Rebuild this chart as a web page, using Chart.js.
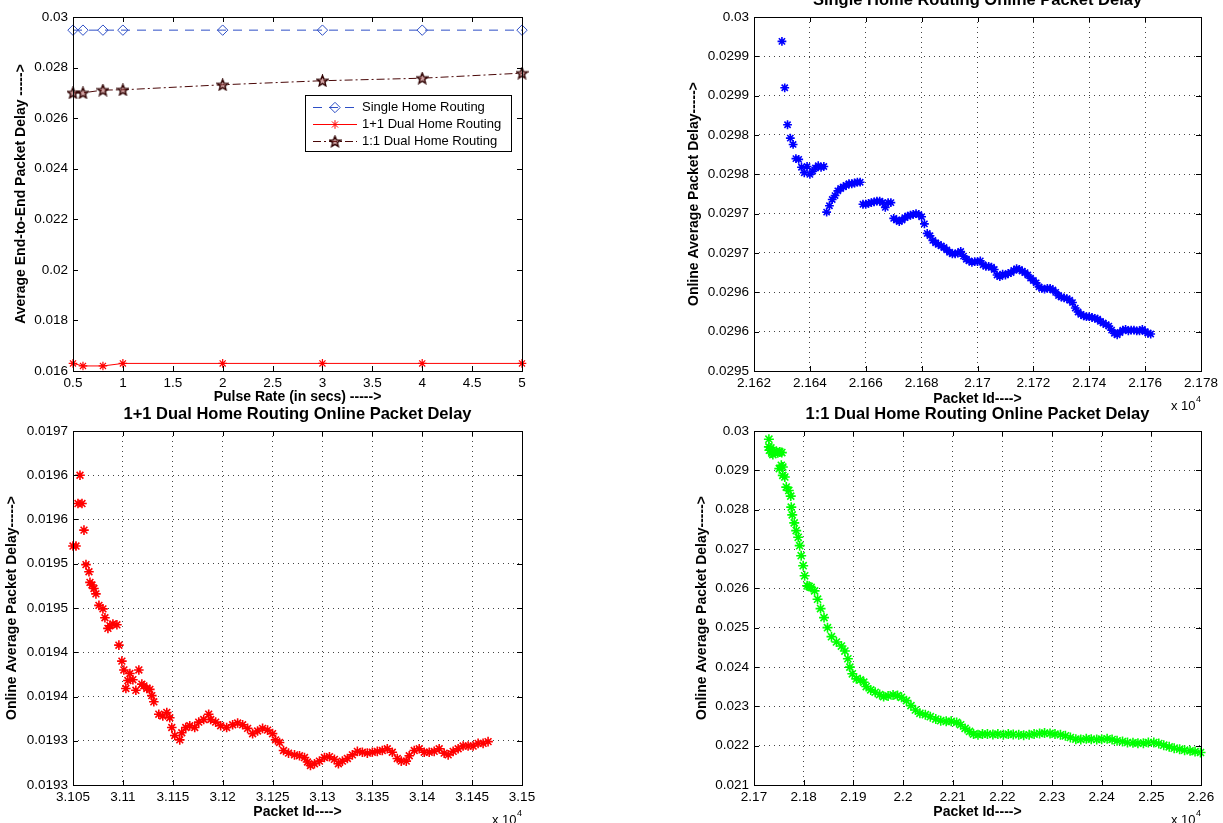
<!DOCTYPE html>
<html>
<head>
<meta charset="utf-8">
<script src="https://cdn.jsdelivr.net/npm/chart.js@4/dist/chart.umd.min.js"></script>
<style>
  html, body { margin: 0; padding: 0; background: #fff; }
  body { width: 1223px; height: 823px; position: relative; overflow: hidden; }
  canvas { position: absolute; }
</style>
</head>
<body>
<canvas id="avgChart"></canvas>
<canvas id="singleChart"></canvas>
<canvas id="plusChart"></canvas>
<canvas id="colonChart"></canvas>
<script>
const FONT = "'Liberation Sans', Arial, Helvetica, sans-serif";
const TICK_PX = 13.5, LABEL_PX = 14, TITLE_PX = 16.5;

// ---- top left: average end-to-end delay against pulse rate
const pulseRate = [0.5, 0.6, 0.8, 1, 2, 3, 4, 5];
const singleHomeAvg = [0.02948, 0.02948, 0.02948, 0.02948, 0.02948, 0.02948, 0.02948, 0.02948];
const dualPlusAvg = [0.0163, 0.0162, 0.0162, 0.0163, 0.0163, 0.0163, 0.0163, 0.0163];
const dualColonAvg = [0.02700, 0.02700, 0.02711, 0.02712, 0.02732, 0.02748, 0.02758, 0.02778];
const pulseTicks = [0.5, 1, 1.5, 2, 2.5, 3, 3.5, 4, 4.5, 5];
const pulseTickLabels = ['0.5', '1', '1.5', '2', '2.5', '3', '3.5', '4', '4.5', '5'];
const avgTicks = [0.016, 0.018, 0.020, 0.022, 0.024, 0.026, 0.028, 0.030];
const avgTickLabels = ['0.016', '0.018', '0.02', '0.022', '0.024', '0.026', '0.028', '0.03'];

// ---- top right: single home routing, [packet id, online average delay]
const singleOnline = [
  [21630, 0.029969], [21631, 0.029910], [21632, 0.029863], [21633, 0.029846], [21634, 0.029838],
  [21635, 0.029820], [21636, 0.029819], [21637, 0.029809], [21638, 0.029802], [21639, 0.029810],
  [21640, 0.029800], [21641, 0.029804], [21642, 0.029808], [21643, 0.029811], [21644, 0.029809],
  [21645, 0.029810],
  [21646, 0.029752], [21647, 0.029760], [21648, 0.029768], [21649, 0.029773], [21650, 0.029779],
  [21651, 0.029782], [21652, 0.029784], [21653, 0.029786], [21654, 0.029788], [21655, 0.029788],
  [21656, 0.029789], [21657, 0.029790], [21658, 0.029790],
  [21659, 0.029762], [21660, 0.029762], [21661, 0.029763], [21662, 0.029764], [21663, 0.029765],
  [21664, 0.029766], [21665, 0.029766], [21666, 0.029764], [21667, 0.029758], [21668, 0.029764],
  [21669, 0.029764],
  [21670, 0.029744], [21671, 0.029742], [21672, 0.029740], [21673, 0.029742], [21674, 0.029745],
  [21675, 0.029747], [21676, 0.029748], [21677, 0.029749], [21678, 0.029750], [21679, 0.029749],
  [21680, 0.029746], [21681, 0.029737],
  [21682, 0.029725], [21683, 0.029722], [21684, 0.029716], [21685, 0.029713], [21686, 0.029711],
  [21687, 0.029709], [21688, 0.029707], [21689, 0.029704], [21690, 0.029701], [21691, 0.029699],
  [21692, 0.029699], [21693, 0.029700], [21694, 0.029702], [21695, 0.029696], [21696, 0.029692],
  [21697, 0.029690], [21698, 0.029688], [21699, 0.029689], [21700, 0.029689], [21701, 0.029690],
  [21702, 0.029685], [21703, 0.029683], [21704, 0.029683], [21705, 0.029682], [21706, 0.029679],
  [21707, 0.029672], [21708, 0.029670], [21709, 0.029673], [21710, 0.029672], [21711, 0.029674],
  [21712, 0.029675], [21713, 0.029678], [21714, 0.029680], [21715, 0.029679], [21716, 0.029677],
  [21717, 0.029675], [21718, 0.029672], [21719, 0.029668], [21720, 0.029665], [21721, 0.029662],
  [21722, 0.029657], [21723, 0.029655], [21724, 0.029654], [21725, 0.029655], [21726, 0.029655],
  [21727, 0.029653], [21728, 0.029650], [21729, 0.029646], [21730, 0.029644], [21731, 0.029643],
  [21732, 0.029642], [21733, 0.029640], [21734, 0.029637], [21735, 0.029630], [21736, 0.029625],
  [21737, 0.029622], [21738, 0.029620], [21739, 0.029619], [21740, 0.029619], [21741, 0.029618],
  [21742, 0.029617], [21743, 0.029616], [21744, 0.029613], [21745, 0.029611], [21746, 0.029609],
  [21747, 0.029607], [21748, 0.029602], [21749, 0.029598], [21750, 0.029596], [21751, 0.029599],
  [21752, 0.029602], [21753, 0.029603], [21754, 0.029601], [21755, 0.029602], [21756, 0.029602],
  [21757, 0.029601], [21758, 0.029601], [21759, 0.029603], [21760, 0.029600], [21761, 0.029598],
  [21762, 0.029597]
];
const singleIdTicks = [21620, 21640, 21660, 21680, 21700, 21720, 21740, 21760, 21780];
const singleIdLabels = ['2.162', '2.164', '2.166', '2.168', '2.17', '2.172', '2.174', '2.176', '2.178'];
const singleDelayTicks = [0.02955, 0.0296, 0.02965, 0.0297, 0.02975, 0.0298, 0.02985, 0.0299, 0.02995, 0.03];
const singleDelayLabels = ['0.0295', '0.0296', '0.0296', '0.0297', '0.0297', '0.0298', '0.0298', '0.0299', '0.0299', '0.03'];

// ---- bottom left: 1+1 dual home routing
const plusOnline = [
  [31050, 0.019520], [31053, 0.019520], [31055, 0.019568], [31057, 0.019600], [31059, 0.019568],
  [31061, 0.019538], [31063, 0.019499], [31066, 0.019491], [31067, 0.019479], [31069, 0.019476],
  [31071, 0.019472], [31073, 0.019466], [31076, 0.019453], [31080, 0.019449], [31082, 0.019439],
  [31085, 0.019427], [31087, 0.019430], [31090, 0.019432], [31094, 0.019431], [31096, 0.019408],
  [31099, 0.019390], [31101, 0.019380], [31103, 0.019359], [31105, 0.019368], [31107, 0.019376],
  [31110, 0.019369], [31113, 0.019357], [31116, 0.019380], [31119, 0.019364], [31121, 0.019362],
  [31124, 0.019359], [31127, 0.019358], [31129, 0.019351], [31131, 0.019344], [31136, 0.019330],
  [31140, 0.019328], [31144, 0.019332], [31147, 0.019326], [31149, 0.019315], [31152, 0.019306],
  [31157, 0.019301], [31159, 0.019309], [31163, 0.019315], [31167, 0.019317], [31172, 0.019315],
  [31176, 0.019321], [31181, 0.019324], [31186, 0.019330], [31188, 0.019324], [31193, 0.019321],
  [31198, 0.019317], [31204, 0.019315], [31210, 0.019318], [31215, 0.019320], [31220, 0.019318],
  [31225, 0.019314], [31230, 0.019308], [31235, 0.019311], [31240, 0.019314], [31245, 0.019312],
  [31250, 0.019308], [31253, 0.019301], [31257, 0.019298], [31261, 0.019289], [31266, 0.019286],
  [31272, 0.019284], [31277, 0.019283], [31282, 0.019281], [31285, 0.019276], [31288, 0.019272],
  [31292, 0.019274], [31297, 0.019277], [31302, 0.019281], [31307, 0.019282], [31312, 0.019279],
  [31316, 0.019274], [31320, 0.019277], [31325, 0.019280], [31330, 0.019284], [31335, 0.019288],
  [31340, 0.019287], [31345, 0.019286], [31350, 0.019287], [31355, 0.019288], [31360, 0.019289],
  [31365, 0.019291], [31370, 0.019287], [31375, 0.019280], [31379, 0.019277], [31384, 0.019277],
  [31387, 0.019283], [31392, 0.019289], [31397, 0.019291], [31402, 0.019287], [31407, 0.019287],
  [31412, 0.019288], [31417, 0.019291], [31422, 0.019286], [31426, 0.019284], [31431, 0.019288],
  [31436, 0.019291], [31441, 0.019294], [31446, 0.019294], [31451, 0.019294], [31456, 0.019297],
  [31461, 0.019297], [31466, 0.019299]
];
const plusIdTicks = [31050, 31100, 31150, 31200, 31250, 31300, 31350, 31400, 31450, 31500];
const plusIdLabels = ['3.105', '3.11', '3.115', '3.12', '3.125', '3.13', '3.135', '3.14', '3.145', '3.15'];
const plusDelayTicks = [0.01925, 0.0193, 0.01935, 0.0194, 0.01945, 0.0195, 0.01955, 0.0196, 0.01965];
const plusDelayLabels = ['0.0193', '0.0193', '0.0194', '0.0194', '0.0195', '0.0195', '0.0196', '0.0196', '0.0197'];

// ---- bottom right: 1:1 dual home routing
const colonOnline = [
  [21730, 0.029791], [21730, 0.029596], [21731, 0.029510], [21734, 0.029570], [21736, 0.029440],
  [21738, 0.029400], [21741, 0.029470], [21745, 0.029485], [21748, 0.029450], [21752, 0.029468],
  [21756, 0.029451], [21751, 0.029043], [21755, 0.029128], [21758, 0.029085], [21758, 0.028872],
  [21762, 0.028830], [21765, 0.028574], [21770, 0.028489], [21774, 0.028345], [21775, 0.028064],
  [21777, 0.027868], [21781, 0.027664], [21785, 0.027468], [21789, 0.027298], [21792, 0.027085],
  [21795, 0.026830], [21799, 0.026575], [21802, 0.026319], [21807, 0.026064], [21811, 0.026050],
  [21815, 0.026022], [21822, 0.025936], [21828, 0.025724], [21834, 0.025485], [21841, 0.025256],
  [21848, 0.025000], [21856, 0.024771], [21866, 0.024635], [21876, 0.024532], [21883, 0.024405],
  [21889, 0.024210], [21893, 0.023997], [21898, 0.023827], [21906, 0.023699], [21914, 0.023673],
  [21921, 0.023614], [21926, 0.023503], [21935, 0.023418], [21944, 0.023358], [21953, 0.023299],
  [21961, 0.023248], [21970, 0.023265], [21980, 0.023290], [21989, 0.023273], [21997, 0.023230],
  [22007, 0.023145], [22016, 0.023018], [22025, 0.022907], [22034, 0.022822], [22045, 0.022788],
  [22055, 0.022737], [22066, 0.022677], [22076, 0.022635], [22087, 0.022618], [22097, 0.022618],
  [22108, 0.022592], [22116, 0.022532], [22125, 0.022439], [22134, 0.022362], [22142, 0.022294],
  [22151, 0.022277], [22160, 0.022294], [22170, 0.022294], [22181, 0.022285], [22191, 0.022294],
  [22202, 0.022277], [22212, 0.022294], [22222, 0.022285], [22233, 0.022277], [22243, 0.022268],
  [22254, 0.022277], [22264, 0.022294], [22275, 0.022310], [22285, 0.022319], [22296, 0.022310],
  [22306, 0.022294], [22317, 0.022277], [22327, 0.022251], [22337, 0.022208], [22348, 0.022166],
  [22358, 0.022157], [22369, 0.022174], [22379, 0.022166], [22390, 0.022157], [22400, 0.022166],
  [22411, 0.022174], [22421, 0.022157], [22431, 0.022123], [22442, 0.022106], [22452, 0.022081],
  [22463, 0.022072], [22473, 0.022064], [22484, 0.022064], [22494, 0.022081], [22505, 0.022081],
  [22515, 0.022055], [22525, 0.022013], [22536, 0.021970], [22546, 0.021936], [22557, 0.021911],
  [22567, 0.021885], [22578, 0.021868], [22588, 0.021851], [22599, 0.021826]
];
const colonIdTicks = [21700, 21800, 21900, 22000, 22100, 22200, 22300, 22400, 22500, 22600];
const colonIdLabels = ['2.17', '2.18', '2.19', '2.2', '2.21', '2.22', '2.23', '2.24', '2.25', '2.26'];
const colonDelayTicks = [0.021, 0.022, 0.023, 0.024, 0.025, 0.026, 0.027, 0.028, 0.029, 0.030];
const colonDelayLabels = ['0.021', '0.022', '0.023', '0.024', '0.025', '0.026', '0.027', '0.028', '0.029', '0.03'];

// five-pointed star used as a marker
function pentagram(color, fill) {
  const c = document.createElement('canvas');
  c.width = c.height = 13;
  const g = c.getContext('2d');
  const R = 5.7, r = 2.5;
  g.beginPath();
  for (let k = 0; k < 10; k++) {
    const a = -Math.PI / 2 + k * Math.PI / 5;
    const rr = k % 2 ? r : R;
    g.lineTo(6.5 + rr * Math.cos(a), 6.9 + rr * Math.sin(a));
  }
  g.closePath();
  g.fillStyle = fill;
  g.fill();
  g.strokeStyle = color;
  g.lineWidth = 1.4;
  g.stroke();
  return c;
}

// box, inward ticks, "x 10^4" and the in-axes legend
const framePlugin = {
  id: 'frame',
  afterDraw(chart, args, opts) {
    const { ctx, chartArea: a, scales } = chart;
    const crisp = v => Math.round(v) + 0.5;
    ctx.save();
    ctx.setLineDash([]);
    ctx.strokeStyle = '#000';
    ctx.lineWidth = 1;
    ctx.strokeRect(crisp(a.left), crisp(a.top), Math.round(a.right) - Math.round(a.left), Math.round(a.bottom) - Math.round(a.top));
    ctx.beginPath();
    scales.x.ticks.forEach(t => {
      const px = crisp(scales.x.getPixelForValue(t.value));
      ctx.moveTo(px, a.bottom); ctx.lineTo(px, a.bottom - 5);
      ctx.moveTo(px, a.top); ctx.lineTo(px, a.top + 5);
    });
    scales.y.ticks.forEach(t => {
      const py = crisp(scales.y.getPixelForValue(t.value));
      ctx.moveTo(a.left, py); ctx.lineTo(a.left + 5, py);
      ctx.moveTo(a.right, py); ctx.lineTo(a.right - 5, py);
    });
    ctx.stroke();

    if (opts.exponent) {
      ctx.fillStyle = '#000';
      ctx.textBaseline = 'middle';
      ctx.textAlign = 'right';
      ctx.font = `9px ${FONT}`;
      ctx.fillText('4', a.right, a.bottom + 29);
      const w4 = ctx.measureText('4').width;
      ctx.font = `13px ${FONT}`;
      ctx.fillText('x 10', a.right - w4 - 0.5, a.bottom + 35);
    }

    if (opts.legend) {
      const x0 = a.left + 232, y0 = a.top + 78, x1 = a.right - 11, y1 = a.top + 134;
      ctx.fillStyle = '#fff';
      ctx.fillRect(x0, y0, x1 - x0, y1 - y0);
      ctx.strokeStyle = '#000';
      ctx.strokeRect(crisp(x0), crisp(y0), Math.round(x1 - x0), Math.round(y1 - y0));
      chart.data.datasets.forEach((ds, i) => {
        const y = crisp(y0 + 12 + i * 17);
        ctx.setLineDash(ds.borderDash || []);
        ctx.strokeStyle = ds.borderColor;
        ctx.lineWidth = 1;
        ctx.beginPath();
        ctx.moveTo(x0 + 8, y); ctx.lineTo(x0 + 52, y);
        ctx.stroke();
        ctx.setLineDash([]);
        ctx.fillStyle = 'rgba(0,0,0,0)';
        ctx.strokeStyle = ds.pointBorderColor || ds.borderColor;
        Chart.helpers.drawPoint(ctx, { pointStyle: ds.pointStyle, radius: ds.pointRadius, borderWidth: ds.pointBorderWidth || 1, rotation: 0 }, x0 + 30, y);
        ctx.fillStyle = '#000';
        ctx.font = `13px ${FONT}`;
        ctx.textAlign = 'left';
        ctx.textBaseline = 'middle';
        ctx.fillText(ds.label, x0 + 57, y);
      });
    }
    ctx.restore();
  }
};

function axis(vals, labels, titleText, horizontal, fixed, showGrid) {
  return {
    type: 'linear',
    position: horizontal ? 'bottom' : 'left',
    min: vals[0],
    max: vals[vals.length - 1],
    afterBuildTicks: ax => { ax.ticks = vals.map(v => ({ value: v })); },
    afterFit: ax => {
      if (horizontal) ax.height = fixed; else ax.width = fixed;
      ax.paddingLeft = ax.paddingRight = ax.paddingTop = ax.paddingBottom = 0;
    },
    ticks: {
      autoSkip: false,
      maxRotation: 0,
      padding: horizontal ? 4 : 5,
      color: '#000',
      font: { family: FONT, size: TICK_PX },
      callback: (v, i) => labels[i]
    },
    grid: { display: showGrid, drawTicks: false, color: '#444', lineWidth: 1 },
    border: { display: false, dash: [1, 4] },
    title: {
      display: true,
      text: titleText,
      color: '#000',
      padding: 0,
      font: { family: FONT, size: LABEL_PX, weight: 'bold' }
    }
  };
}

// positions a canvas so that its plot area lands on box = {L, T, R, B}
function makeChart(id, box, spec) {
  const canvas = document.getElementById(id);
  const labLH = LABEL_PX * 1.2, ttlLH = TITLE_PX * 1.2;
  const left = Math.round(spec.yTitleX - labLH / 2);
  const top = spec.title ? Math.round(box.T - 16 - ttlLH / 2) : box.T - 12;
  const padTop = spec.title ? 0 : 12;
  const titleGap = spec.title ? box.T - top - ttlLH : 0;
  const xH = Math.round(spec.xTitleY - box.B + labLH / 2);
  const padR = 22, padB = 12;
  const w = box.R - left + padR, h = box.B + xH + padB - top;
  canvas.width = w; canvas.height = h;
  canvas.style.left = left + 'px'; canvas.style.top = top + 'px';
  canvas.style.width = w + 'px'; canvas.style.height = h + 'px';

  return new Chart(canvas, {
    type: spec.type,
    data: { datasets: spec.datasets },
    plugins: [framePlugin],
    options: {
      responsive: false,
      animation: false,
      devicePixelRatio: 1,
      layout: { autoPadding: false, padding: { left: 0, top: padTop, right: padR, bottom: padB } },
      scales: {
        x: axis(spec.xTicks, spec.xLabels, spec.xTitle, true, xH, spec.grid),
        y: axis(spec.yTicks, spec.yLabels, spec.yTitle, false, box.L - left, spec.grid)
      },
      plugins: {
        legend: { display: false },
        tooltip: { enabled: false },
        title: {
          display: !!spec.title,
          text: spec.title || '',
          color: '#000',
          fullSize: false,
          padding: { top: 0, bottom: titleGap },
          font: { family: FONT, size: TITLE_PX, weight: 'bold' }
        },
        frame: { exponent: spec.exponent, legend: spec.legend }
      }
    }
  });
}

function scatterSet(pairs, color, radius) {
  return {
    data: pairs.map(([x, y]) => ({ x, y })),
    pointStyle: 'star',
    pointRadius: radius,
    borderColor: color,
    backgroundColor: color,
    borderWidth: 1.6,
    clip: false
  };
}

const toXY = ys => pulseRate.map((x, i) => ({ x, y: ys[i] }));

makeChart('avgChart', { L: 73, T: 17, R: 522, B: 371 }, {
  type: 'line',
  yTitleX: 21, xTitleY: 397.5,
  xTicks: pulseTicks, xLabels: pulseTickLabels, xTitle: 'Pulse Rate (in secs) ----->',
  yTicks: avgTicks, yLabels: avgTickLabels, yTitle: 'Average End-to-End Packet Delay ----->',
  grid: false, legend: true,
  datasets: [
    {
      label: 'Single Home Routing', data: toXY(singleHomeAvg),
      borderColor: '#2e4fc6', borderWidth: 1, borderDash: [9, 7],
      pointStyle: 'rectRot', pointRadius: 5.2, pointBorderColor: '#2e4fc6',
      pointBackgroundColor: 'rgba(0,0,0,0)', pointBorderWidth: 1, clip: false
    },
    {
      label: '1+1 Dual Home Routing', data: toXY(dualPlusAvg),
      borderColor: '#ff0000', borderWidth: 1,
      pointStyle: 'star', pointRadius: 4.3, pointBorderColor: '#ff0000',
      pointBackgroundColor: '#ff0000', pointBorderWidth: 1.2, clip: false
    },
    {
      label: '1:1 Dual Home Routing', data: toXY(dualColonAvg),
      borderColor: '#4a0808', borderWidth: 1, borderDash: [8, 3, 2, 3],
      pointStyle: pentagram('#2e0000', 'rgba(150,50,50,0.45)'), pointRadius: 6, pointBorderColor: '#2e0000',
      pointBorderWidth: 1, clip: false
    }
  ]
});

makeChart('singleChart', { L: 754, T: 17, R: 1201, B: 371 }, {
  type: 'scatter',
  title: 'Single Home Routing Online Packet Delay',
  yTitleX: 694, xTitleY: 399.5,
  xTicks: singleIdTicks, xLabels: singleIdLabels, xTitle: 'Packet Id---->',
  yTicks: singleDelayTicks, yLabels: singleDelayLabels, yTitle: 'Online Average Packet Delay----->',
  grid: true, exponent: true,
  datasets: [scatterSet(singleOnline, '#0000ff', 4.4)]
});

makeChart('plusChart', { L: 73, T: 431, R: 522, B: 785 }, {
  type: 'scatter',
  title: '1+1 Dual Home Routing Online Packet Delay',
  yTitleX: 12.5, xTitleY: 813,
  xTicks: plusIdTicks, xLabels: plusIdLabels, xTitle: 'Packet Id---->',
  yTicks: plusDelayTicks, yLabels: plusDelayLabels, yTitle: 'Online Average Packet Delay----->',
  grid: true, exponent: true,
  datasets: [scatterSet(plusOnline, '#ff0000', 4.8)]
});

makeChart('colonChart', { L: 754, T: 431, R: 1201, B: 785 }, {
  type: 'scatter',
  title: '1:1 Dual Home Routing Online Packet Delay',
  yTitleX: 702, xTitleY: 813,
  xTicks: colonIdTicks, xLabels: colonIdLabels, xTitle: 'Packet Id---->',
  yTicks: colonDelayTicks, yLabels: colonDelayLabels, yTitle: 'Online Average Packet Delay----->',
  grid: true, exponent: true,
  datasets: [scatterSet(colonOnline, '#00ff00', 5)]
});
</script>
</body>
</html>
